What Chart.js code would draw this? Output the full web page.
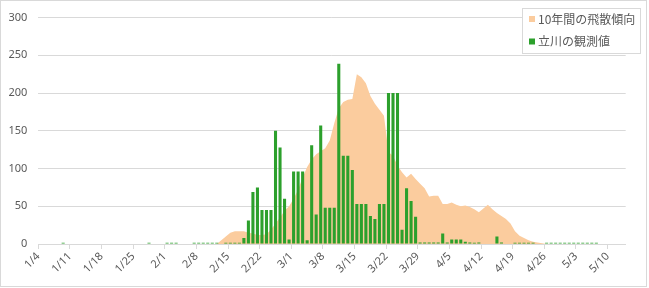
<!DOCTYPE html>
<html>
<head>
<meta charset="utf-8">
<script src="https://cdn.jsdelivr.net/npm/chart.js@4.4.0/dist/chart.umd.min.js"></script>
<style>
  html, body { margin: 0; padding: 0; background: #ffffff; }
  #wrap { width: 649px; height: 288px; position: relative; }
</style>
</head>
<body>
<div id="wrap"><canvas id="c" width="649" height="288"></canvas></div>
<script>
// Categories: daily dates 1/4 .. 5/13
const categories = [
  "1/4","1/5","1/6","1/7","1/8","1/9","1/10","1/11","1/12","1/13","1/14","1/15","1/16","1/17","1/18","1/19","1/20","1/21","1/22","1/23","1/24","1/25","1/26","1/27","1/28","1/29","1/30","1/31",
  "2/1","2/2","2/3","2/4","2/5","2/6","2/7","2/8","2/9","2/10","2/11","2/12","2/13","2/14","2/15","2/16","2/17","2/18","2/19","2/20","2/21","2/22","2/23","2/24","2/25","2/26","2/27","2/28",
  "3/1","3/2","3/3","3/4","3/5","3/6","3/7","3/8","3/9","3/10","3/11","3/12","3/13","3/14","3/15","3/16","3/17","3/18","3/19","3/20","3/21","3/22","3/23","3/24","3/25","3/26","3/27","3/28","3/29","3/30","3/31",
  "4/1","4/2","4/3","4/4","4/5","4/6","4/7","4/8","4/9","4/10","4/11","4/12","4/13","4/14","4/15","4/16","4/17","4/18","4/19","4/20","4/21","4/22","4/23","4/24","4/25","4/26","4/27","4/28","4/29","4/30",
  "5/1","5/2","5/3","5/4","5/5","5/6","5/7","5/8","5/9","5/10","5/11","5/12","5/13"
];

// Tick labels shown on the x axis
const tickLabels = ["1/4","1/11","1/18","1/25","2/1","2/8","2/15","2/22","3/1","3/8","3/15","3/22","3/29","4/5","4/12","4/19","4/26","5/3","5/10"];

const seriesNames = ["10年間の飛散傾向", "立川の観測値"];

// 10-year trend (area)
const trendValues = [
  0,0,0,0,0,0,0,0,0,0,
  0,0,0,0,0,0,0,0,0,0,
  0,0,0,0,0,0,0,0,0,0,
  0,0,0,0,0,0,0,0,0,0,
  5,10,15,17,17,17,15,14,12,12,
  13,19,27,35,44,50,60,72,88,102,
  112,119,123,127,137,160,180,188,191,192,
  225,221,213,196,186,178,170,122,117,104,
  95,88,93,86,80,74,63,64,64,53,
  53,55,52,50,51,49,46,42,47,52,
  46,41,37,33,27,17,11,8,5,3,
  2,1,0,0,0,0,0,0,0,0,
  0,0,0,0,0,0,0,0,0,0
];

// Tachikawa observations (bars); null = no bar shown
const observedValues = [
  null,null,null,null,null,1,null,null,null,null,
  null,null,null,null,null,null,null,null,null,null,
  null,null,null,null,1,null,null,null,1,1,
  1,null,null,null,1,1,1,1,1,1,
  null,1,1,1,1,8,31,69,75,45,
  45,45,150,128,60,6,96,96,96,5,
  131,39,157,48,48,48,239,117,117,98,
  53,53,53,37,33,53,53,200,200,200,
  19,74,57,36,2,2,2,2,2,14,
  2,6,6,6,3,2,1,2,null,null,
  null,10,2,null,null,1,1,1,1,1,
  null,null,1,1,1,1,1,1,1,1,
  1,1,1,1,null,null,null,null,null,null
];

const yTicks = [0, 50, 100, 150, 200, 250, 300];

const areaColor = '#FBCC9E';
const barColor = '#2CA02C';
const gridColor = '#D9D9D9';
const textColor = '#595959';

const frameAndLegend = {
  id: 'frameAndLegend',
  afterDraw(chart) {
    const ctx = chart.ctx;
    ctx.save();
    // outer frame
    ctx.strokeStyle = gridColor;
    ctx.lineWidth = 1;
    ctx.strokeRect(0.5, 0.5, 646, 286);
    // legend box
    const bx = 522.5, by = 8.5, bw = 118, bh = 45;
    ctx.fillStyle = '#ffffff';
    ctx.fillRect(bx, by, bw, bh);
    ctx.strokeRect(bx, by, bw, bh);
    const items = chart.data.datasets.map(d => ({ text: d.label, color: d.legendColor }));
    const rowsY = [19, 41.5];
    ctx.font = "12px 'Noto Sans CJK JP', sans-serif";
    ctx.textBaseline = 'middle';
    ctx.textAlign = 'left';
    items.forEach((it, i) => {
      ctx.fillStyle = it.color;
      ctx.fillRect(529, rowsY[i] - 3, 6, 6);
      ctx.fillStyle = textColor;
      ctx.fillText(it.text, 538, rowsY[i]);
    });
    ctx.restore();
  }
};

new Chart(document.getElementById('c'), {
  type: 'bar',
  data: {
    labels: categories,
    datasets: [
      {
        type: 'line',
        label: seriesNames[0],
        data: trendValues,
        legendColor: areaColor,
        backgroundColor: areaColor,
        borderColor: areaColor,
        borderWidth: 0,
        pointRadius: 0,
        tension: 0,
        fill: 'origin',
        order: 2
      },
      {
        type: 'bar',
        label: seriesNames[1],
        data: observedValues,
        legendColor: barColor,
        backgroundColor: barColor,
        borderWidth: 0,
        barPercentage: 0.68,
        categoryPercentage: 1.0,
        minBarLength: 1.2,
        order: 1
      }
    ]
  },
  options: {
    responsive: false,
    animation: false,
    events: [],
    layout: { padding: { left: 0, top: 14, right: 23.3, bottom: 0 } },
    plugins: {
      legend: { display: false },
      tooltip: { enabled: false }
    },
    scales: {
      x: {
        type: 'category',
        offset: true,
        grid: {
          display: true,
          offset: true,
          drawOnChartArea: false,
          drawTicks: true,
          tickLength: 5,
          color: (c) => (c.index % 7 === 0 ? gridColor : 'rgba(0,0,0,0)')
        },
        border: { display: true, color: gridColor, width: 1 },
        ticks: {
          autoSkip: false,
          maxRotation: 45,
          minRotation: 45,
          padding: 1,
          labelOffset: -2.26,
          color: textColor,
          font: { family: "'Noto Sans', sans-serif", size: 11 },
          callback: function (v, i) {
            const lab = categories[i];
            return tickLabels.includes(lab) && i % 7 === 0 ? lab : '';
          }
        },
        afterFit: (s) => { s.height = 44; }
      },
      y: {
        min: 0,
        max: 300,
        afterBuildTicks: (s) => { s.ticks = yTicks.map(v => ({ value: v })); },
        grid: { color: gridColor, drawTicks: false, lineWidth: 1 },
        border: { display: false },
        ticks: {
          padding: 11,
          color: textColor,
          font: { family: "'Noto Sans', sans-serif", size: 11 }
        },
        afterFit: (s) => { s.width = 38.3; }
      }
    }
  },
  plugins: [frameAndLegend]
});
</script>
</body>
</html>
